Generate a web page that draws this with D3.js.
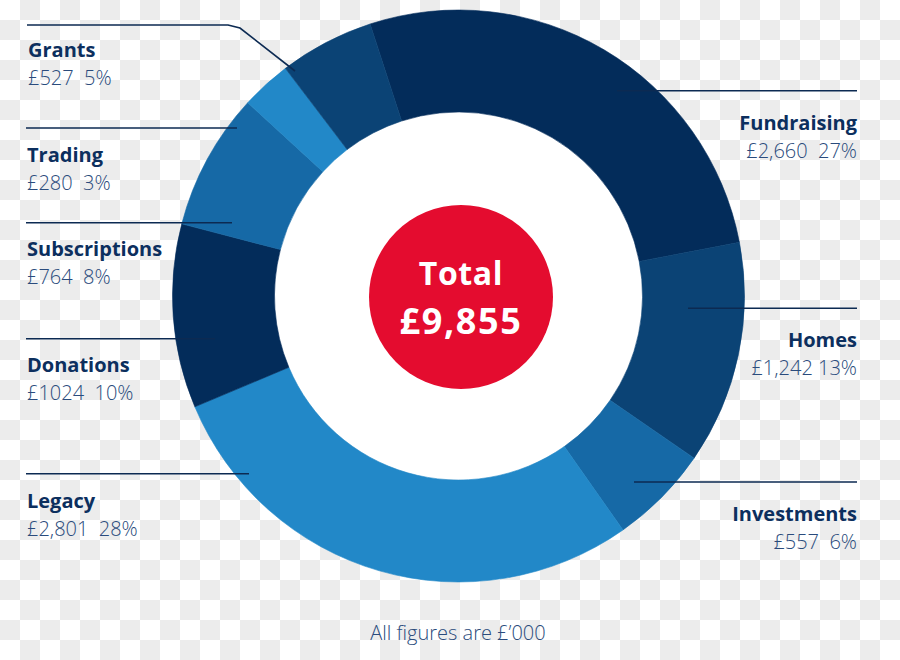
<!DOCTYPE html>
<html>
<head>
<meta charset="utf-8">
<script src="https://cdn.jsdelivr.net/npm/d3@7/dist/d3.min.js"></script>
<style>
  html, body { margin: 0; padding: 0; background: #fff; }
  svg { display: block; }
  text { white-space: pre; }
</style>
</head>
<body>
<div id="chart"></div>
<script>
// ---- data ----
const categories = ["Fundraising", "Homes", "Investments", "Legacy", "Donations", "Subscriptions", "Trading", "Grants"];
const values = [2660, 1242, 557, 2801, 1024, 764, 280, 527];
const valueLabels = ["£2,660  27%", "£1,242 13%", "£557  6%", "£2,801  28%", "£1024  10%", "£764  8%", "£280  3%", "£527  5%"];
const sliceColors = ["#032c5a", "#0b4375", "#1669a6", "#2288c8", "#032c5a", "#1669a6", "#2288c8", "#0b4375"];
const totalTitle = "Total";
const footnote = "All figures are £\u2019000";

// ---- layout (positions / styles only) ----
const W = 900, H = 660;
const cx = 458.5, cy = 296;
const outerR = 286, innerR = 184;
const redR = 92, redCx = 461, redCy = 297;
const startDeg = -18;
const labelLayout = {
  Fundraising:  { side: "right", x: 857, y: 130, line: [[617, 90.7], [857, 90.7]] },
  Homes:        { side: "right", x: 857, y: 347, line: [[688, 308.3], [857, 308.3]] },
  Investments:  { side: "right", x: 857, y: 521, line: [[634, 482], [857, 482]] },
  Legacy:       { side: "left",  x: 27,  y: 508, line: [[26, 473.7], [249, 473.7]] },
  Donations:    { side: "left",  x: 27,  y: 372, line: [[26, 338.7], [215, 338.7]] },
  Subscriptions:{ side: "left",  x: 27,  y: 256, line: [[26, 222.7], [232, 222.7]] },
  Trading:      { side: "left",  x: 27,  y: 162, line: [[26, 128], [237, 128]] },
  Grants:       { side: "left",  x: 28,  y: 57,  line: [[27, 25], [228, 25], [240, 28], [295, 71]] }
};
const titleColor = "#0c2f5e";
const valueColor = "#2a4b7c";
const lineColor = "#0c2a52";
const fontFamily = "'Open Sans', 'Noto Sans', sans-serif";

const svg = d3.select("#chart").append("svg")
  .attr("width", W).attr("height", H)
  .attr("viewBox", `0 0 ${W} ${H}`);

// checkerboard background (transparency pattern in the reference)
const defs = svg.append("defs");
const pat = defs.append("pattern").attr("id", "checker")
  .attr("width", 40).attr("height", 40).attr("patternUnits", "userSpaceOnUse");
pat.append("rect").attr("width", 40).attr("height", 40).attr("fill", "#ffffff");
pat.append("rect").attr("x", 20).attr("y", 0).attr("width", 20).attr("height", 20).attr("fill", "#ececec");
pat.append("rect").attr("x", 0).attr("y", 20).attr("width", 20).attr("height", 20).attr("fill", "#ececec");
svg.append("rect").attr("width", W).attr("height", H).attr("fill", "url(#checker)");

// donut
const color = d3.scaleOrdinal().domain(categories).range(sliceColors);
const pie = d3.pie().sort(null).value(d => d.value)
  .startAngle(startDeg * Math.PI / 180)
  .endAngle((startDeg + 360) * Math.PI / 180);
const arc = d3.arc().innerRadius(innerR).outerRadius(outerR);
const data = categories.map((c, i) => ({ name: c, value: values[i], label: valueLabels[i] }));

const g = svg.append("g").attr("transform", `translate(${cx},${cy})`);
g.append("circle").attr("r", innerR).attr("fill", "#ffffff");
g.selectAll("path.slice").data(pie(data)).join("path")
  .attr("class", "slice")
  .attr("d", arc)
  .attr("fill", d => color(d.data.name))
  .attr("stroke", d => color(d.data.name))
  .attr("stroke-width", 0.6);

// red centre
svg.append("circle").attr("cx", redCx).attr("cy", redCy).attr("r", redR).attr("fill", "#e40c2f");
const total = d3.sum(values);
svg.append("text").attr("x", redCx).attr("y", 285)
  .attr("text-anchor", "middle").attr("fill", "#fff")
  .attr("font-family", fontFamily).attr("font-weight", 700).attr("font-size", 32)
  .attr("letter-spacing", 0.6)
  .text(totalTitle);
svg.append("text").attr("x", redCx).attr("y", 334)
  .attr("text-anchor", "middle").attr("fill", "#fff")
  .attr("font-family", fontFamily).attr("font-weight", 700).attr("font-size", 36)
  .attr("letter-spacing", 1.6)
  .text("£" + d3.format(",")(total));

// leader lines
const lineGen = d3.line().curve(d3.curveLinear);
svg.selectAll("path.leader").data(data).join("path")
  .attr("class", "leader")
  .attr("d", d => lineGen(labelLayout[d.name].line))
  .attr("fill", "none").attr("stroke", lineColor).attr("stroke-width", 1.6);

// labels
const lab = svg.selectAll("g.label").data(data).join("g").attr("class", "label");
lab.append("text")
  .attr("x", d => labelLayout[d.name].x)
  .attr("y", d => labelLayout[d.name].y)
  .attr("text-anchor", d => labelLayout[d.name].side === "right" ? "end" : "start")
  .attr("fill", titleColor).attr("font-family", fontFamily)
  .attr("font-weight", 700).attr("font-size", 20)
  .text(d => d.name);
lab.append("text")
  .attr("x", d => labelLayout[d.name].x)
  .attr("y", d => labelLayout[d.name].y + 28)
  .attr("text-anchor", d => labelLayout[d.name].side === "right" ? "end" : "start")
  .attr("fill", valueColor).attr("font-family", fontFamily)
  .attr("font-weight", 300).attr("font-size", 20)
  .text(d => d.label);

// footnote
svg.append("text").attr("x", 458).attr("y", 640)
  .attr("text-anchor", "middle").attr("fill", valueColor)
  .attr("font-family", fontFamily).attr("font-weight", 300).attr("font-size", 20)
  .text(footnote);
</script>
</body>
</html>
